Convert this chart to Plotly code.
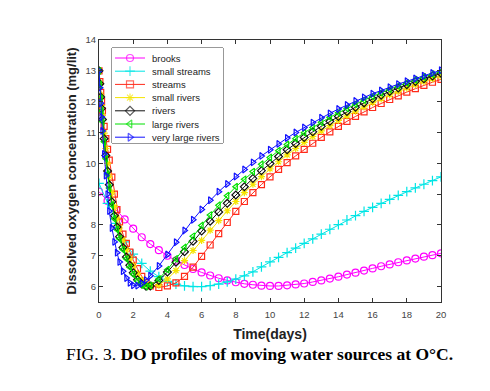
import plotly.graph_objects as go

# ---------------- data ----------------
t_uniform = [0, 0.5, 1, 1.5, 2, 2.5, 3, 3.5, 4, 4.5, 5, 5.5, 6, 6.5, 7, 7.5, 8, 8.5, 9, 9.5,
             10, 10.5, 11, 11.5, 12, 12.5, 13, 13.5, 14, 14.5, 15, 15.5, 16, 16.5, 17, 17.5,
             18, 18.5, 19, 19.5, 20]

t_river = [0, 0.05, 0.1, 0.15, 0.2, 0.3, 0.4, 0.5, 0.6, 0.75, 0.9, 1.05, 1.2, 1.4, 1.6, 1.8,
           2.0, 2.25, 2.5, 2.75, 3.0, 3.5, 4, 4.5, 5, 5.5, 6, 6.5, 7, 7.5, 8, 8.5, 9, 9.5,
           10, 10.5, 11, 11.5, 12, 12.5, 13, 13.5, 14, 14.5, 15, 15.5, 16, 16.5, 17, 17.5,
           18, 18.5, 19, 19.5, 20]

brooks = [9.08, 8.78, 8.5, 8.18, 7.88, 7.6, 7.38, 7.18, 7.0, 6.84,
          6.7, 6.57, 6.46, 6.36, 6.27, 6.2, 6.14, 6.09, 6.06, 6.03,
          6.02, 6.02, 6.04, 6.07, 6.1, 6.15, 6.2, 6.26, 6.32, 6.39,
          6.45, 6.52, 6.59, 6.66, 6.72, 6.79, 6.85, 6.91, 6.97, 7.02, 7.08]

small_streams = [9.35, 8.7, 8.05, 7.45, 7.05, 6.75, 6.5, 6.32, 6.17, 6.08,
                 6.02, 6.0, 6.0, 6.03, 6.08, 6.15, 6.24, 6.35, 6.48, 6.64,
                 6.8, 6.95, 7.1, 7.25, 7.4, 7.55, 7.7, 7.86, 8.01, 8.16,
                 8.3, 8.44, 8.57, 8.7, 8.83, 8.96, 9.08, 9.2, 9.32, 9.44, 9.56]

streams = [13.0, 12.65, 12.3, 12.0, 11.7, 11.2, 10.8, 10.45, 10.1, 9.55, 9.0, 8.5, 8.1, 7.7,
           7.4, 7.12, 6.86, 6.58, 6.33, 6.13, 6.02,
           5.97, 6.02, 6.12, 6.33, 6.63, 6.98, 7.35, 7.72, 8.08, 8.44,
           8.76, 9.05, 9.31, 9.56, 9.8, 10.02, 10.24, 10.45, 10.65, 10.84,
           11.02, 11.2, 11.36, 11.52, 11.67, 11.81, 11.94, 12.07, 12.19, 12.31,
           12.42, 12.53, 12.63, 12.72]

small_rivers = [13.0, 12.6, 12.22, 11.88, 11.55, 10.98, 10.48, 10.0, 9.58, 9.05, 8.6, 8.22,
                7.9, 7.52, 7.2, 6.92, 6.68, 6.42, 6.22, 6.09, 6.02,
                6.05, 6.25, 6.52, 6.84, 7.17, 7.5, 7.83, 8.14, 8.46, 8.76,
                9.05, 9.32, 9.57, 9.82, 10.05, 10.27, 10.48, 10.68, 10.87, 11.05,
                11.22, 11.39, 11.54, 11.69, 11.83, 11.97, 12.09, 12.22, 12.33, 12.44,
                12.55, 12.65, 12.74, 12.83]

rivers = [13.0, 12.58, 12.15, 11.78, 11.42, 10.8, 10.25, 9.75, 9.3, 8.75, 8.3, 7.93, 7.62,
          7.27, 6.96, 6.69, 6.45, 6.22, 6.08, 6.01, 6.02,
          6.2, 6.47, 6.79, 7.13, 7.47, 7.8, 8.12, 8.42, 8.7, 8.97,
          9.24, 9.51, 9.76, 9.99, 10.22, 10.44, 10.64, 10.84, 11.02, 11.2,
          11.36, 11.52, 11.68, 11.82, 11.96, 12.09, 12.21, 12.33, 12.44, 12.55,
          12.65, 12.74, 12.83, 12.92]

large_rivers = [13.0, 12.55, 12.1, 11.7, 11.35, 10.7, 10.15, 9.65, 9.2, 8.65, 8.2, 7.85,
                7.55, 7.2, 6.9, 6.63, 6.4, 6.18, 6.05, 6.0, 6.04,
                6.25, 6.55, 6.9, 7.27, 7.63, 7.98, 8.32, 8.64, 8.95, 9.24,
                9.48, 9.73, 9.97, 10.19, 10.41, 10.61, 10.8, 10.99, 11.16, 11.33,
                11.49, 11.64, 11.78, 11.92, 12.05, 12.17, 12.29, 12.4, 12.51, 12.61,
                12.71, 12.8, 12.89, 12.97]

very_large_rivers = [13.0, 12.45, 11.95, 11.5, 11.05, 10.3, 9.6, 9.0, 8.45, 7.9, 7.45, 7.1,
                     6.8, 6.5, 6.28, 6.12, 6.04, 6.03, 6.1, 6.21, 6.35,
                     6.67, 7.04, 7.44, 7.82, 8.17, 8.5, 8.8, 9.08, 9.33, 9.57,
                     9.8, 10.03, 10.24, 10.44, 10.63, 10.82, 11.0, 11.16, 11.32, 11.48,
                     11.62, 11.76, 11.89, 12.02, 12.14, 12.26, 12.36, 12.47, 12.57, 12.66,
                     12.75, 12.84, 12.93, 13.02]

x_ticks = [0, 2, 4, 6, 8, 10, 12, 14, 16, 18, 20]
y_ticks = [6, 7, 8, 9, 10, 11, 12, 13, 14]

series = [
    ("brooks", t_uniform, brooks, "#ff00ff", "circle-open", 7),
    ("small streams", t_uniform, small_streams, "#00e5e5", "cross-thin-open", 7),
    ("streams", t_river, streams, "#ff2a1a", "square-open", 6),
    ("small rivers", t_river, small_rivers, "#f5e400", "asterisk-open", 6),
    ("rivers", t_river, rivers, "#111111", "diamond-open", 6),
    ("large rivers", t_river, large_rivers, "#00e000", "triangle-left-open", 6),
    ("very large rivers", t_river, very_large_rivers, "#1010ff", "triangle-right-open", 6),
]

FONT = "Liberation Sans, Arial"
fig = go.Figure()
for name, tx, vals, col, sym, msize in series:
    fig.add_trace(go.Scatter(
        x=tx, y=vals, name=name, mode="lines+markers", showlegend=False,
        line=dict(color=col, width=1),
        marker=dict(symbol=sym, size=msize, color=col, line=dict(color=col, width=1.2)),
    ))

# ---- MATLAB-style compact legend drawn in an inset axis (pixel units of the box) ----
LEG_W, LEG_H = 111, 95
for i, (name, tx, vals, col, sym, msize) in enumerate(series):
    yk = 10 + 13.2 * i
    fig.add_trace(go.Scatter(
        x=[3, 18, 33], y=[yk, yk, yk], mode="lines+markers", showlegend=False,
        xaxis="x2", yaxis="y2", hoverinfo="skip",
        line=dict(color=col, width=1),
        marker=dict(symbol=sym, size=[0, 7, 0], color=col, line=dict(color=col, width=1.2)),
    ))
    fig.add_annotation(xref="x2", yref="y2", x=38, y=yk, text=name, showarrow=False,
                       xanchor="left", yanchor="middle",
                       font=dict(family=FONT, size=9.5, color="#222222"))

fig.add_shape(type="rect", xref="x2 domain", yref="y2 domain", x0=0, x1=1, y0=0, y1=1,
              line=dict(color="#333333", width=1), fillcolor="white", layer="below")

axis_common = dict(
    showline=True, linecolor="#333333", linewidth=1, mirror="ticks",
    ticks="inside", ticklen=4, tickcolor="#333333",
    showgrid=False, zeroline=False,
    tickfont=dict(family=FONT, size=9.5, color="#444444"),
)

fig.update_layout(
    xaxis=dict(range=[0, 20], tickvals=x_ticks, ticklabelstandoff=4,
               title=dict(text="<b>Time(days)</b>", standoff=9,
                          font=dict(family=FONT, size=14, color="#222222")),
               **axis_common),
    yaxis=dict(range=[5.5, 14], tickvals=y_ticks,
               title=dict(text="<b>Dissolved oxygen concentration (mg/lit)</b>", standoff=5,
                          font=dict(family=FONT, size=13, color="#222222")),
               **axis_common),
    xaxis2=dict(domain=[13 / 342, (13 + LEG_W) / 342], range=[0, LEG_W], anchor="y2",
                visible=False, fixedrange=True),
    yaxis2=dict(domain=[1 - (8 + LEG_H) / 262, 1 - 8 / 262], range=[LEG_H, 0], anchor="x2",
                visible=False, fixedrange=True),
)

fig.add_annotation(
    xref="paper", yref="paper", x=0.47, y=-0.2, xanchor="center", yanchor="middle",
    text="FIG. 3. <b>DO profiles of moving water sources at O°C.</b>",
    showarrow=False,
    font=dict(family="Liberation Serif, Times New Roman", size=17.5, color="#000000"),
)

# page body has an 8px margin, so the figure is sized/offset to compensate
fig.update_layout(
    width=482, height=383,
    margin=dict(l=91, r=49, t=32, b=89),
    paper_bgcolor="white", plot_bgcolor="white",
    showlegend=False,
)

fig.write_html("out.html")
